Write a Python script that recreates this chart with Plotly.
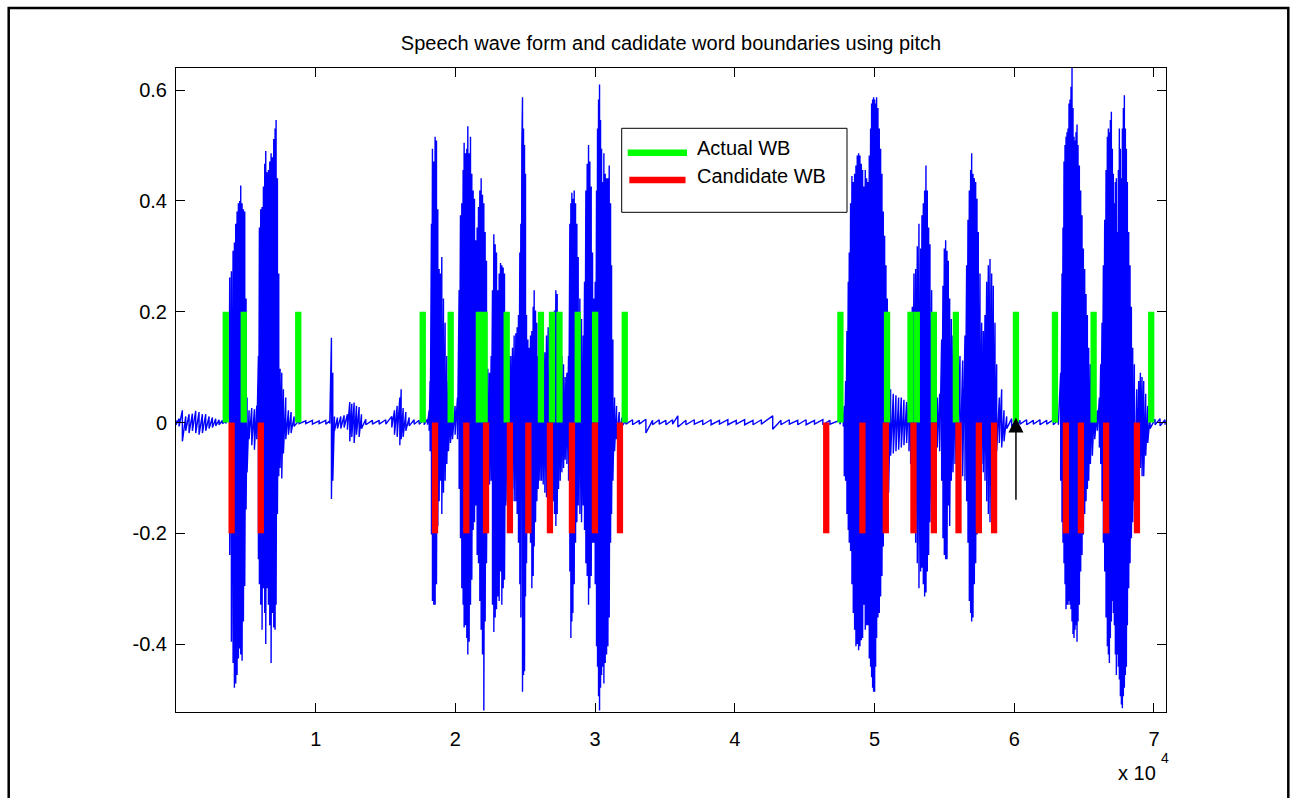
import plotly.graph_objects as go

# ---------------- data ----------------
# waveform envelope: sample index, local maximum, local minimum
wave_x = [1, 218, 456, 695, 934, 1173, 1411, 1650, 1889, 2127, 2366, 2605, 2843, 3082, 3321, 3560, 3798,
          3846, 3965, 4085, 4180, 4276, 4371, 4467, 4562, 4634, 4729, 4825, 4920, 5016, 5087,
          5230, 5421, 5612, 5779,
          5899, 5970, 6066, 6161, 6257, 6352, 6424, 6519, 6615, 6710, 6806, 6901, 6997, 7092, 7164, 7259, 7355,
          7451, 7570, 7689, 7856, 8047, 8238, 8453,
          8811, 9288, 9766, 10243, 10721, 11007, 11126, 11222, 11341, 11556, 11795, 12033, 12272,
          12439, 12582, 12750, 12917, 13108, 13275, 13585, 14063, 14540, 15018,
          15447, 15638, 15829, 16020, 16115, 16258, 16450, 16688, 17046, 17404, 17762,
          17998, 18118, 18189, 18285, 18356, 18452, 18547, 18643, 18738, 18834, 18929, 19025, 19144, 19263,
          19383, 19502, 19645, 19789, 19979, 20147,
          20266, 20361, 20457, 20552, 20624, 20720, 20815, 20887, 20982, 21078, 21173, 21269, 21364, 21460,
          21555, 21651, 21746, 21842, 21937, 22033, 22128, 22223, 22319, 22438, 22558,
          22653, 22749, 22844, 22940, 23035, 23131, 23226, 23321, 23417, 23512, 23608, 23727, 23847, 23966,
          24085, 24205, 24324,
          24419, 24515, 24610, 24682, 24754, 24802, 24873, 24945, 25016, 25088, 25183, 25279, 25374, 25470,
          25565, 25637, 25733, 25828, 25923, 26043, 26162, 26281, 26401, 26520, 26639, 26759, 26878, 26997,
          27093, 27188, 27284, 27379, 27499, 27618, 27738, 27857, 27976, 28096,
          28191, 28263, 28334, 28406, 28501, 28597, 28692, 28788, 28907, 29026, 29146,
          29241, 29337, 29432, 29528, 29623, 29719, 29814, 29909, 30005, 30100, 30172, 30244, 30315, 30387,
          30459, 30530, 30626, 30721, 30817, 30912, 31008, 31103, 31175, 31270, 31390, 31533, 31724, 31915,
          32201, 32679, 33156, 33633, 34111, 34588, 35065, 35543, 35922, 36500, 37100, 37700, 38300, 38900,
          39500, 40100, 40700, 41300, 41900, 42711, 43300, 43900, 44500, 45100, 45700, 46300, 46805, 47521,
          47760, 47832, 47927, 48022, 48118, 48190, 48285, 48381, 48476, 48571, 48667, 48762, 48858, 48953,
          49049, 49144, 49240, 49335, 49431, 49526, 49622, 49717, 49789, 49861, 49932, 50004, 50075, 50147,
          50242, 50338, 50433, 50529, 50624, 50720, 50815, 50911, 51006,
          51149, 51340, 51531, 51722, 51913, 52104, 52295, 52462,
          52582, 52701, 52820, 52940, 53059, 53178, 53298, 53393, 53489, 53584, 53680, 53775, 53871, 53966,
          54086, 54205, 54324, 54491, 54658,
          54802, 54897, 54993, 55088, 55184, 55279, 55375, 55494, 55613, 55756, 55924, 56115, 56306, 56472,
          56592, 56687, 56783, 56878, 56950, 57045, 57141, 57236, 57332, 57427, 57547, 57666, 57785,
          57905, 58024, 58143, 58263, 58382, 58501, 58621, 58740, 58931, 59098, 59265, 59456,
          59814, 60172, 60409, 60886, 61364, 61841, 62318, 62796, 63154,
          63321, 63417, 63488, 63560, 63632, 63704, 63775, 63847, 63918, 63990, 64061, 64133, 64205, 64276,
          64348, 64419, 64491, 64563, 64658, 64754, 64849, 64945, 65040, 65136, 65231, 65326, 65446, 65589,
          65756, 65947, 66090,
          66186, 66281, 66377, 66472, 66568, 66663, 66735, 66806, 66878, 66949, 67021, 67093, 67164, 67236,
          67307, 67379, 67451, 67522, 67594, 67666, 67737, 67809, 67880, 67952, 68024, 68095, 68191, 68286,
          68382, 68477, 68596,
          68764, 68907, 69026, 69146, 69265, 69408, 69552, 69719, 70077, 70435, 70793]

wave_hi = [0.004, 0.007, 0.022, 0.011, 0.015, 0.016, 0.021, 0.019, 0.015, 0.015, 0.011, 0.009, 0.007, 0.005, 0.004, 0.003, 0.015,
           0.262, 0.273, 0.310, 0.325, 0.359, 0.381, 0.396, 0.400, 0.428, 0.396, 0.385, 0.381, 0.224, 0.045,
           0.022, 0.026, 0.024, 0.030,
           0.120, 0.352, 0.385, 0.389, 0.426, 0.467, 0.490, 0.452, 0.456, 0.471, 0.486, 0.479, 0.512, 0.531, 0.546, 0.441, 0.269,
           0.097, 0.090, 0.060, 0.045, 0.022, 0.019, 0.011,
           0.004, 0.003, 0.004, 0.003, 0.004, 0.003, 0.153, 0.090, 0.011, 0.009, 0.011, 0.013, 0.015,
           0.037, 0.034, 0.036, 0.030, 0.028, 0.015, 0.006, 0.004, 0.004, 0.005,
           0.011, 0.022, 0.030, 0.045, 0.060, 0.026, 0.019, 0.009, 0.005, 0.004, 0.005,
           0.006, 0.022, 0.075, 0.359, 0.494, 0.471, 0.516, 0.509, 0.385, 0.277, 0.269, 0.299, 0.224, 0.180,
           0.120, 0.075, 0.045, 0.015, 0.030, 0.045,
           0.239, 0.374, 0.396, 0.456, 0.505, 0.486, 0.494, 0.535, 0.486, 0.516, 0.449, 0.419, 0.404, 0.329,
           0.352, 0.389, 0.419, 0.441, 0.411, 0.396, 0.344, 0.292, 0.097, 0.090, 0.120,
           0.239, 0.340, 0.322, 0.307, 0.239, 0.269, 0.288, 0.284, 0.280, 0.269, 0.165, 0.150, 0.120, 0.120,
           0.135, 0.157, 0.161,
           0.172, 0.194, 0.307, 0.359, 0.501, 0.587, 0.531, 0.501, 0.449, 0.194, 0.150, 0.135, 0.157, 0.165,
           0.209, 0.239, 0.202, 0.180, 0.120, 0.090, 0.082, 0.105, 0.127, 0.157, 0.172, 0.135, 0.105, 0.180,
           0.202, 0.239, 0.232, 0.194, 0.157, 0.120, 0.105, 0.082, 0.090, 0.120,
           0.359, 0.396, 0.415, 0.404, 0.419, 0.396, 0.359, 0.299, 0.224, 0.187, 0.157,
           0.254, 0.419, 0.467, 0.501, 0.471, 0.426, 0.307, 0.224, 0.254, 0.419, 0.531, 0.583, 0.610, 0.546,
           0.494, 0.434, 0.486, 0.449, 0.441, 0.441, 0.464, 0.396, 0.284, 0.150, 0.045, 0.030, 0.019, 0.009,
           0.004, 0.005, 0.004, 0.006, 0.004, 0.005, 0.004, 0.005, 0.012, 0.004, 0.005, 0.004, 0.005, 0.004,
           0.005, 0.004, 0.005, 0.004, 0.005, 0.012, 0.004, 0.005, 0.004, 0.005, 0.004, 0.005, 0.004, 0.004,
           0.015, 0.030, 0.075, 0.165, 0.254, 0.307, 0.396, 0.445, 0.434, 0.449, 0.464, 0.482, 0.486, 0.482,
           0.467, 0.456, 0.426, 0.456, 0.441, 0.434, 0.482, 0.531, 0.576, 0.583, 0.587, 0.583, 0.576, 0.587,
           0.568, 0.531, 0.494, 0.449, 0.381, 0.337, 0.284, 0.224, 0.165,
           0.060, 0.052, 0.049, 0.045, 0.045, 0.041, 0.037, 0.052,
           0.105, 0.209, 0.269, 0.277, 0.318, 0.359, 0.314, 0.374, 0.396, 0.419, 0.464, 0.419, 0.352, 0.322,
           0.239, 0.180, 0.097, 0.045, 0.052,
           0.150, 0.247, 0.314, 0.329, 0.310, 0.292, 0.224, 0.187, 0.157, 0.135, 0.127, 0.120, 0.112, 0.157,
           0.284, 0.366, 0.419, 0.456, 0.486, 0.449, 0.441, 0.434, 0.404, 0.344, 0.269, 0.180, 0.165,
           0.194, 0.254, 0.284, 0.295, 0.269, 0.247, 0.180, 0.105, 0.045, 0.060, 0.022, 0.011,
           0.007, 0.004, 0.004, 0.005, 0.004, 0.005, 0.004, 0.005, 0.005,
           0.090, 0.269, 0.352, 0.471, 0.501, 0.516, 0.524, 0.531, 0.576, 0.583, 0.606, 0.640, 0.568, 0.516,
           0.509, 0.524, 0.538, 0.501, 0.464, 0.419, 0.374, 0.314, 0.277, 0.232, 0.194, 0.135, 0.105, 0.060,
           0.045, 0.022, 0.045,
           0.105, 0.180, 0.284, 0.366, 0.456, 0.516, 0.531, 0.524, 0.546, 0.561, 0.494, 0.449, 0.396, 0.434,
           0.441, 0.344, 0.456, 0.531, 0.494, 0.441, 0.531, 0.568, 0.591, 0.531, 0.494, 0.434, 0.344, 0.284,
           0.209, 0.135, 0.105,
           0.060, 0.075, 0.090, 0.082, 0.075, 0.052, 0.030, 0.011, 0.006, 0.007, 0.005]

wave_lo = [-0.004, -0.007, -0.034, -0.015, -0.019, -0.015, -0.019, -0.022, -0.019, -0.015, -0.011, -0.009, -0.006, -0.004, -0.002, -0.002, -0.007,
           -0.239, -0.396, -0.434, -0.479, -0.471, -0.456, -0.426, -0.408, -0.419, -0.430, -0.359, -0.295, -0.157, -0.090,
           -0.030, -0.041, -0.049, -0.030,
           -0.247, -0.292, -0.329, -0.374, -0.299, -0.344, -0.400, -0.299, -0.329, -0.366, -0.434, -0.344, -0.370, -0.374, -0.329, -0.165, -0.097,
           -0.082, -0.101, -0.056, -0.030, -0.022, -0.019, -0.007,
           -0.002, -0.002, -0.003, -0.002, -0.003, -0.002, -0.138, -0.105, -0.015, -0.011, -0.011, -0.009, -0.013,
           -0.034, -0.026, -0.037, -0.022, -0.026, -0.011, -0.004, -0.003, -0.003, -0.003,
           -0.009, -0.022, -0.026, -0.041, -0.030, -0.026, -0.015, -0.006, -0.003, -0.003, -0.004,
           -0.004, -0.015, -0.052, -0.202, -0.322, -0.329, -0.329, -0.292, -0.187, -0.142, -0.105, -0.165, -0.127, -0.105,
           -0.075, -0.052, -0.037, -0.030, -0.022, -0.030,
           -0.120, -0.209, -0.299, -0.329, -0.370, -0.366, -0.389, -0.419, -0.396, -0.329, -0.284, -0.194, -0.180, -0.150,
           -0.239, -0.254, -0.322, -0.374, -0.419, -0.520, -0.359, -0.254, -0.165, -0.112, -0.105,
           -0.329, -0.378, -0.352, -0.337, -0.314, -0.322, -0.269, -0.329, -0.299, -0.284, -0.150, -0.142, -0.127, -0.105,
           -0.120, -0.142, -0.142,
           -0.165, -0.217, -0.292, -0.352, -0.419, -0.486, -0.456, -0.449, -0.314, -0.254, -0.180, -0.142, -0.217, -0.299,
           -0.277, -0.224, -0.180, -0.142, -0.120, -0.105, -0.105, -0.112, -0.127, -0.135, -0.142, -0.135, -0.120, -0.142,
           -0.165, -0.187, -0.165, -0.120, -0.105, -0.090, -0.082, -0.067, -0.075, -0.105,
           -0.269, -0.389, -0.359, -0.344, -0.292, -0.217, -0.180, -0.150, -0.165, -0.180, -0.150,
           -0.194, -0.254, -0.277, -0.329, -0.299, -0.277, -0.217, -0.217, -0.292, -0.404, -0.441, -0.494, -0.520, -0.479,
           -0.456, -0.441, -0.471, -0.434, -0.419, -0.404, -0.352, -0.217, -0.165, -0.105, -0.052, -0.030, -0.019, -0.007,
           -0.003, -0.004, -0.003, -0.019, -0.004, -0.003, -0.004, -0.003, -0.008, -0.004, -0.003, -0.004, -0.004, -0.003,
           -0.004, -0.003, -0.004, -0.004, -0.003, -0.012, -0.004, -0.003, -0.004, -0.004, -0.003, -0.004, -0.003, -0.003,
           -0.007, -0.097, -0.105, -0.165, -0.194, -0.217, -0.232, -0.292, -0.344, -0.374, -0.404, -0.400, -0.411, -0.404,
           -0.393, -0.389, -0.329, -0.374, -0.366, -0.366, -0.426, -0.441, -0.460, -0.479, -0.486, -0.486, -0.441, -0.389,
           -0.352, -0.344, -0.314, -0.277, -0.224, -0.187, -0.172, -0.150, -0.127,
           -0.060, -0.056, -0.052, -0.049, -0.045, -0.041, -0.037, -0.052,
           -0.075, -0.135, -0.180, -0.217, -0.254, -0.299, -0.269, -0.262, -0.292, -0.314, -0.307, -0.269, -0.239, -0.180,
           -0.142, -0.105, -0.075, -0.045, -0.052,
           -0.105, -0.209, -0.239, -0.247, -0.247, -0.150, -0.187, -0.105, -0.090, -0.075, -0.075, -0.090, -0.097, -0.105,
           -0.142, -0.217, -0.322, -0.344, -0.359, -0.352, -0.292, -0.254, -0.202, -0.150, -0.105, -0.075, -0.090,
           -0.105, -0.142, -0.165, -0.180, -0.135, -0.090, -0.075, -0.052, -0.037, -0.045, -0.034, -0.011,
           -0.007, -0.004, -0.003, -0.004, -0.003, -0.004, -0.003, -0.004, -0.004,
           -0.105, -0.180, -0.217, -0.254, -0.292, -0.337, -0.329, -0.329, -0.322, -0.329, -0.337, -0.359, -0.382, -0.389,
           -0.374, -0.366, -0.396, -0.359, -0.329, -0.269, -0.239, -0.202, -0.165, -0.142, -0.120, -0.105, -0.075, -0.060,
           -0.030, -0.015, -0.045,
           -0.075, -0.142, -0.217, -0.269, -0.352, -0.404, -0.419, -0.434, -0.389, -0.359, -0.322, -0.344, -0.366, -0.419,
           -0.456, -0.419, -0.441, -0.464, -0.494, -0.509, -0.516, -0.494, -0.479, -0.456, -0.441, -0.366, -0.299, -0.254,
           -0.209, -0.180, -0.142,
           -0.105, -0.090, -0.082, -0.097, -0.097, -0.060, -0.037, -0.011, -0.004, -0.006, -0.004]

# word boundaries (sample index)
actual_wb = [3560, 4850, 8750, 17660, 19660, 21680, 22090, 23670, 26120, 26910, 27450, 28755, 30000, 32120,
             47556, 50895, 52570, 53025, 54245, 55820, 60120, 62910, 65680, 69800]
candidate_wb = [3980, 6070, 18540, 20780, 22190, 23900, 25220, 26765, 28340, 29985, 31775,
                46540, 49130, 50805, 52784, 54245, 56008, 57465, 58555, 63695, 64770, 66575, 68780]
actual_level = 0.2
candidate_level = -0.2

x_ticks = [10000, 20000, 30000, 40000, 50000, 60000, 70000]
x_tick_labels = ["1", "2", "3", "4", "5", "6", "7"]
y_ticks = [-0.4, -0.2, 0, 0.2, 0.4, 0.6]
y_tick_labels = ["-0.4", "-0.2", "0", "0.2", "0.4", "0.6"]
x_range = [0, 70860]
y_range = [-0.5226, 0.640]

arrow_x = 60120
arrow_tail = -0.142
arrow_tip = 0.009

title_text = "Speech wave form and cadidate word boundaries using pitch"
legend_labels = ["Actual WB", "Candidate WB"]

# ---------------- figure ----------------
W, H = 1291, 798
L, R, T, B = 176, 125, 68, 86
PW, PH = W - L - R, H - T - B
FONT = "Liberation Sans, Arial, Helvetica, sans-serif"


def px(xp):
    return (xp - L) / PW


def py(yp):
    return (H - B - yp) / PH


wx, wy = [], []
for xv, hv, lv in zip(wave_x, wave_hi, wave_lo):
    wx += [xv, xv]
    wy += [hv, lv]


def bars(xs, level):
    bx, by = [], []
    for xv in xs:
        bx += [xv, xv, None]
        by += [0, level, None]
    return bx, by


fig = go.Figure()
fig.add_trace(go.Scatter(x=wx, y=wy, mode="lines", line=dict(color="#0000FF", width=1.4),
                         showlegend=False, hoverinfo="skip"))
gx, gy = bars(actual_wb, actual_level)
fig.add_trace(go.Scatter(x=gx, y=gy, mode="lines", line=dict(color="#00FF00", width=6.3),
                         name=legend_labels[0], showlegend=False, hoverinfo="skip"))
rx, ry = bars(candidate_wb, candidate_level)
fig.add_trace(go.Scatter(x=rx, y=ry, mode="lines", line=dict(color="#FF0000", width=6.3),
                         name=legend_labels[1], showlegend=False, hoverinfo="skip"))

axis_common = dict(showgrid=False, zeroline=False, showline=True, linecolor="black", linewidth=1,
                   mirror="ticks", ticks="inside", ticklen=9, tickwidth=1, tickcolor="black",
                   tickfont=dict(family=FONT, size=20, color="black"))

fig.update_xaxes(range=x_range, tickmode="array", tickvals=x_ticks, ticktext=x_tick_labels,
                 ticklabelstandoff=9, **axis_common)
fig.update_yaxes(range=y_range, tickmode="array", tickvals=y_ticks, ticktext=y_tick_labels,
                 ticklabelstandoff=4, **axis_common)

shapes = [
    # outer figure frame
    dict(type="rect", xref="paper", yref="paper", x0=px(8.7), x1=px(1288.3), y0=py(812), y1=py(8),
         line=dict(color="black", width=2.5), fillcolor="rgba(0,0,0,0)", layer="above"),
    # legend box
    dict(type="rect", xref="paper", yref="paper", x0=px(621.7), x1=px(847), y0=py(212.3), y1=py(128.3),
         line=dict(color="black", width=1), fillcolor="white", layer="above"),
    dict(type="line", xref="paper", yref="paper", x0=px(627.7), x1=px(687), y0=py(152.7), y1=py(152.7),
         line=dict(color="#00FF00", width=6.5), layer="above"),
    dict(type="line", xref="paper", yref="paper", x0=px(629.3), x1=px(685.5), y0=py(180), y1=py(180),
         line=dict(color="#FF0000", width=6.5), layer="above"),
]

annotations = [
    dict(text=legend_labels[0], xref="paper", yref="paper", x=px(694.5), y=py(148), xanchor="left",
         yanchor="middle", showarrow=False, font=dict(family=FONT, size=20, color="black")),
    dict(text=legend_labels[1], xref="paper", yref="paper", x=px(694.5), y=py(175.5), xanchor="left",
         yanchor="middle", showarrow=False, font=dict(family=FONT, size=20, color="black")),
    dict(text="x 10", xref="paper", yref="paper", x=px(1158), y=py(772.5), xanchor="right",
         yanchor="middle", showarrow=False, font=dict(family=FONT, size=20, color="black")),
    dict(text="4", xref="paper", yref="paper", x=px(1159), y=py(757.5), xanchor="left",
         yanchor="middle", showarrow=False, font=dict(family=FONT, size=14, color="black")),
    dict(text="", x=arrow_x, y=arrow_tip, xref="x", yref="y", ax=arrow_x, ay=arrow_tail,
         axref="x", ayref="y", showarrow=True, arrowhead=2, arrowsize=2, arrowwidth=1.5,
         arrowcolor="black", standoff=0),
]

fig.update_layout(
    width=W, height=H, margin=dict(l=L, r=R, t=T, b=B, pad=0),
    paper_bgcolor="white", plot_bgcolor="white",
    title=dict(text=title_text, x=px(671), xanchor="center", xref="paper",
               y=1 - 43 / H, yref="container", yanchor="middle",
               font=dict(family=FONT, size=20, color="black")),
    showlegend=False, hovermode=False,
    shapes=shapes, annotations=annotations,
)

fig.write_html("out.html", config={"displayModeBar": False})
